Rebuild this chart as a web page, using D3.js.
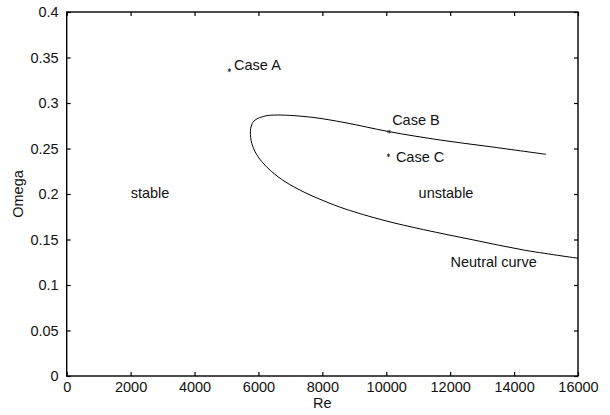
<!DOCTYPE html>
<html>
<head>
<meta charset="utf-8">
<script src="https://cdn.jsdelivr.net/npm/d3@7"></script>
<style>
  body { margin: 0; background: #fff; }
  text { font-family: "Liberation Sans", Arial, sans-serif; fill: #111; }
</style>
</head>
<body>
<div class="chart"></div>
<script>
// neutral curve, traced from upper branch end, round the nose, to lower branch
var curveRe = [15000, 13250, 11690, 10090, 8710, 7670, 6620, 6210, 5895, 5785, 5748, 5757, 5791, 5895, 6104, 6418, 6834, 7460, 8086, 8712, 9930, 11160, 12730, 14290, 16020];
var curveOmega = [0.2436, 0.252, 0.2593, 0.2685, 0.2784, 0.2843, 0.2868, 0.2857, 0.2813, 0.2758, 0.2685, 0.2621, 0.2557, 0.2465, 0.2355, 0.2245, 0.2135, 0.2015, 0.1919, 0.1836, 0.1710, 0.1609, 0.1495, 0.1385, 0.1293];

var caseNames = ["Case A", "Case B", "Case C"];
var caseRe = [5090, 10090, 10070];
var caseOmega = [0.336, 0.2685, 0.2425];

var xTicks = [0, 2000, 4000, 6000, 8000, 10000, 12000, 14000, 16000];
var yTicks = [0, 0.05, 0.1, 0.15, 0.2, 0.25, 0.3, 0.35, 0.4];

var regionText = ["stable", "unstable", "Neutral curve"];
var regionRe = [2608, 11870, 13360];
var regionOmega = [0.2008, 0.201, 0.125];

var W = 610, H = 415;
var plotL = 66.7, plotR = 578, plotT = 12, plotB = 376;
var fs = "14.5px";

var svg = d3.select(".chart").append("svg")
    .attr("width", W)
    .attr("height", H);

var x = d3.scaleLinear().domain([0, 16000]).range([plotL, plotR]);
var y = d3.scaleLinear().domain([0, 0.4]).range([plotB, plotT]);

svg.append("clipPath").attr("id", "clip")
  .append("rect").attr("x", plotL).attr("y", plotT)
  .attr("width", plotR - plotL).attr("height", plotB - plotT);

// ticks inside on all four sides
var tickLen = 4;
svg.append("g").attr("transform", "translate(0," + plotB + ")")
    .call(d3.axisBottom(x).tickValues(xTicks).tickSizeInner(-tickLen).tickSizeOuter(0).tickPadding(6).tickFormat(d3.format("d")))
    .call(function (g) { g.select(".domain").remove(); });
svg.append("g").attr("transform", "translate(0," + plotT + ")")
    .call(d3.axisTop(x).tickValues(xTicks).tickSizeInner(-tickLen).tickSizeOuter(0).tickFormat(""))
    .call(function (g) { g.select(".domain").remove(); });
svg.append("g").attr("transform", "translate(" + plotL + ",0)")
    .call(d3.axisLeft(y).tickValues(yTicks).tickSizeInner(-tickLen).tickSizeOuter(0).tickPadding(8).tickFormat(function (d) { return String(+d.toFixed(2)); }))
    .call(function (g) { g.select(".domain").remove(); });
svg.append("g").attr("transform", "translate(" + plotR + ",0)")
    .call(d3.axisRight(y).tickValues(yTicks).tickSizeInner(-tickLen).tickSizeOuter(0).tickFormat(""))
    .call(function (g) { g.select(".domain").remove(); });

svg.selectAll("g").attr("font-family", null).attr("font-size", null);
svg.selectAll(".tick text").style("font-size", fs).style("fill", "#111");
svg.selectAll(".tick line").attr("stroke", "#000").attr("stroke-width", 1.2);

svg.append("rect")
    .attr("x", plotL).attr("y", plotT)
    .attr("width", plotR - plotL).attr("height", plotB - plotT)
    .attr("fill", "none").attr("stroke", "#000").attr("stroke-width", 1.4);

var pts = curveRe.map(function (r, i) { return [r, curveOmega[i]]; });
var line = d3.line()
    .x(function (d) { return x(d[0]); })
    .y(function (d) { return y(d[1]); })
    .curve(d3.curveCatmullRom.alpha(0.5));

svg.append("path")
    .attr("d", line(pts))
    .attr("clip-path", "url(#clip)")
    .attr("fill", "none")
    .attr("stroke", "#000")
    .attr("stroke-width", 1);

// case markers
var star = d3.symbol().type(d3.symbolAsterisk).size(10);
svg.selectAll(".case")
    .data(caseNames)
    .enter().append("path")
    .attr("transform", function (d, i) { return "translate(" + x(caseRe[i]) + "," + y(caseOmega[i]) + ")"; })
    .attr("d", star)
    .attr("fill", "none")
    .attr("stroke", "#222")
    .attr("stroke-width", 0.8);

var caseDx = [4.7, 3, 7.4];
var caseDy = [-0.5, -6.7, 6.3];
svg.selectAll(".caselabel")
    .data(caseNames)
    .enter().append("text")
    .attr("x", function (d, i) { return x(caseRe[i]) + caseDx[i]; })
    .attr("y", function (d, i) { return y(caseOmega[i]) + caseDy[i]; })
    .style("font-size", fs)
    .text(function (d) { return d; });

svg.selectAll(".region")
    .data(regionText)
    .enter().append("text")
    .attr("x", function (d, i) { return x(regionRe[i]); })
    .attr("y", function (d, i) { return y(regionOmega[i]) + 5; })
    .attr("text-anchor", "middle")
    .style("font-size", fs)
    .text(function (d) { return d; });

svg.append("text")
    .attr("x", (plotL + plotR) / 2).attr("y", 408)
    .attr("text-anchor", "middle")
    .style("font-size", fs)
    .text("Re");

svg.append("text")
    .attr("transform", "translate(23," + ((plotT + plotB) / 2) + ") rotate(-90)")
    .attr("text-anchor", "middle")
    .style("font-size", fs)
    .text("Omega");
</script>
</body>
</html>
